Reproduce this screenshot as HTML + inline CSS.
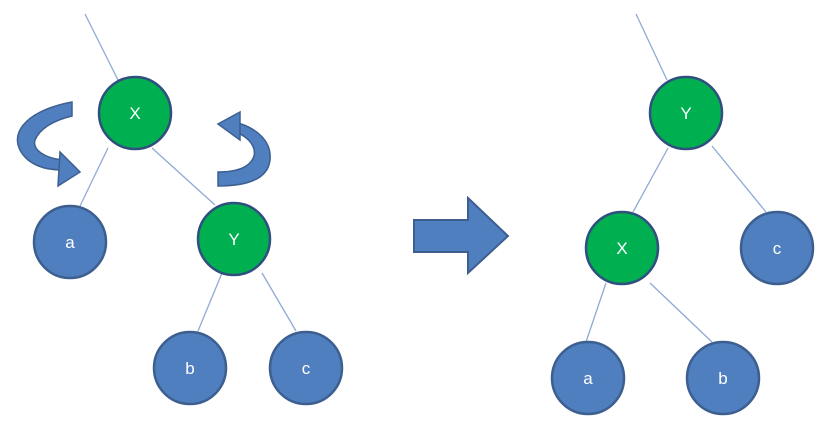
<!DOCTYPE html>
<html><head><style>body{margin:0;background:#fff}</style></head><body>
<svg width="838" height="433" viewBox="0 0 838 433" xmlns="http://www.w3.org/2000/svg" font-family="Liberation Sans, sans-serif">
<g stroke="#8eaad6" stroke-width="1.3">
<line x1="85" y1="14" x2="118" y2="80"/>
<line x1="108" y1="148" x2="80" y2="206"/>
<line x1="152" y1="148" x2="215" y2="205"/>
<line x1="222" y1="273" x2="198" y2="331"/>
<line x1="262" y1="273" x2="296" y2="331"/>
<line x1="636" y1="14" x2="667" y2="80"/>
<line x1="668" y1="148" x2="633" y2="212"/>
<line x1="712" y1="146" x2="766" y2="212"/>
<line x1="606" y1="283" x2="586" y2="342"/>
<line x1="650" y1="283" x2="712" y2="342"/>
</g>
<g stroke="#2f4f7f" stroke-width="2.5">
<circle cx="135" cy="113" r="36" fill="#00b050"/>
<circle cx="234" cy="239" r="36" fill="#00b050"/>
<circle cx="70" cy="242" r="36" fill="#4f7fbf" stroke="#3d5f90"/>
<circle cx="190" cy="368" r="36" fill="#4f7fbf" stroke="#3d5f90"/>
<circle cx="306" cy="368" r="36" fill="#4f7fbf" stroke="#3d5f90"/>
<circle cx="686" cy="113" r="36" fill="#00b050"/>
<circle cx="622" cy="248" r="36" fill="#00b050"/>
<circle cx="777" cy="248" r="36" fill="#4f7fbf" stroke="#3d5f90"/>
<circle cx="588" cy="378" r="36" fill="#4f7fbf" stroke="#3d5f90"/>
<circle cx="723" cy="378" r="36" fill="#4f7fbf" stroke="#3d5f90"/>
</g>
<g fill="#fff" font-size="17" text-anchor="middle">
<text x="135" y="119">X</text><text x="234" y="245">Y</text>
<text x="70" y="248">a</text><text x="190" y="374">b</text><text x="306" y="374">c</text>
<text x="686" y="119">Y</text><text x="622" y="254">X</text><text x="777" y="254">c</text>
<text x="588" y="384">a</text><text x="723" y="384">b</text>
</g>
<!-- curved arrows -->
<g fill="#4f7fbf" stroke="#3d5f90" stroke-width="1.5">
<path d="M72,102 C30,110 10,130 20,150 C28,165 45,170 62,170 L62,160 C45,158 32,150 35,140 C40,128 55,120 72,116 Z"/>
<polygon points="60,152 80,172 58,186"/>
<path d="M218,186 C250,186 268,178 270,160 C272,140 255,128 238,123 L238,133 C250,138 256,148 254,156 C250,168 235,172 218,172 Z"/>
<polygon points="240,112 218,124 240,140"/>
</g>
<!-- big arrow -->
<polygon points="414,220 468,220 468,198 508,236 468,273 468,252 414,252" fill="#4f7fbf" stroke="#3d5f90" stroke-width="2"/>
</svg>
</body></html>
